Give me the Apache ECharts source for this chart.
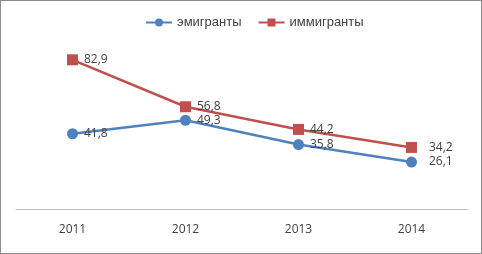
<!DOCTYPE html>
<html>
<head>
<meta charset="utf-8">
<script src="https://cdn.jsdelivr.net/npm/echarts@6/dist/echarts.min.js"></script>
<style>
  html, body { margin: 0; padding: 0; background: #fff; }
  #chart { width: 482px; height: 254px; box-sizing: border-box; border: 1px solid #8c8c8c; }
</style>
</head>
<body>
<div id="chart"></div>
<script>
// данные с картинки
var years = ['2011', '2012', '2013', '2014'];
var emigrants = [41.8, 49.3, 35.8, 26.1];
var immigrants = [82.9, 56.8, 44.2, 34.2];

var chart = echarts.init(document.getElementById('chart'));
var labelFmt = function (p) { return String(p.value).replace('.', ','); };
var font = '"Open Sans", "Noto Sans", sans-serif';
var legendFont = '"Liberation Sans", Arial, sans-serif';

// последняя подпись стоит чуть дальше от точки
function withLabels(arr) {
  return arr.map(function (v, i) {
    return i === arr.length - 1 ? { value: v, label: { distance: 12 } } : v;
  });
}

chart.setOption({
  animation: false,
  textStyle: { fontFamily: font },
  legend: {
    top: 10,
    left: 139,
    itemWidth: 26,
    itemHeight: 10,
    itemGap: 16,
    textStyle: { fontSize: 13, color: '#404040', fontFamily: legendFont },
    data: ['эмигранты', 'иммигранты']
  },
  grid: { left: 15, right: 13, top: 28, bottom: 44 },
  xAxis: {
    type: 'category',
    data: years,
    boundaryGap: true,
    axisLine: { lineStyle: { color: '#bfbfbf', width: 1 } },
    axisTick: { show: false },
    axisLabel: { margin: 15, fontSize: 12, color: '#404040', fontFamily: font }
  },
  yAxis: {
    type: 'value',
    min: 0,
    max: 100,
    show: false,
    splitLine: { show: false }
  },
  series: [
    {
      name: 'эмигранты',
      type: 'line',
      data: withLabels(emigrants),
      symbol: 'circle',
      symbolSize: 11,
      color: '#4f81bd',
      lineStyle: { width: 2.5, color: '#4f81bd' },
      label: { show: true, position: 'right', distance: 6, fontSize: 12, color: '#404040', formatter: labelFmt }
    },
    {
      name: 'иммигранты',
      type: 'line',
      data: withLabels(immigrants),
      symbol: 'rect',
      symbolSize: 11,
      color: '#c0504d',
      lineStyle: { width: 2.5, color: '#c0504d' },
      label: { show: true, position: 'right', distance: 6, fontSize: 12, color: '#404040', formatter: labelFmt }
    }
  ]
});
</script>
</body>
</html>
